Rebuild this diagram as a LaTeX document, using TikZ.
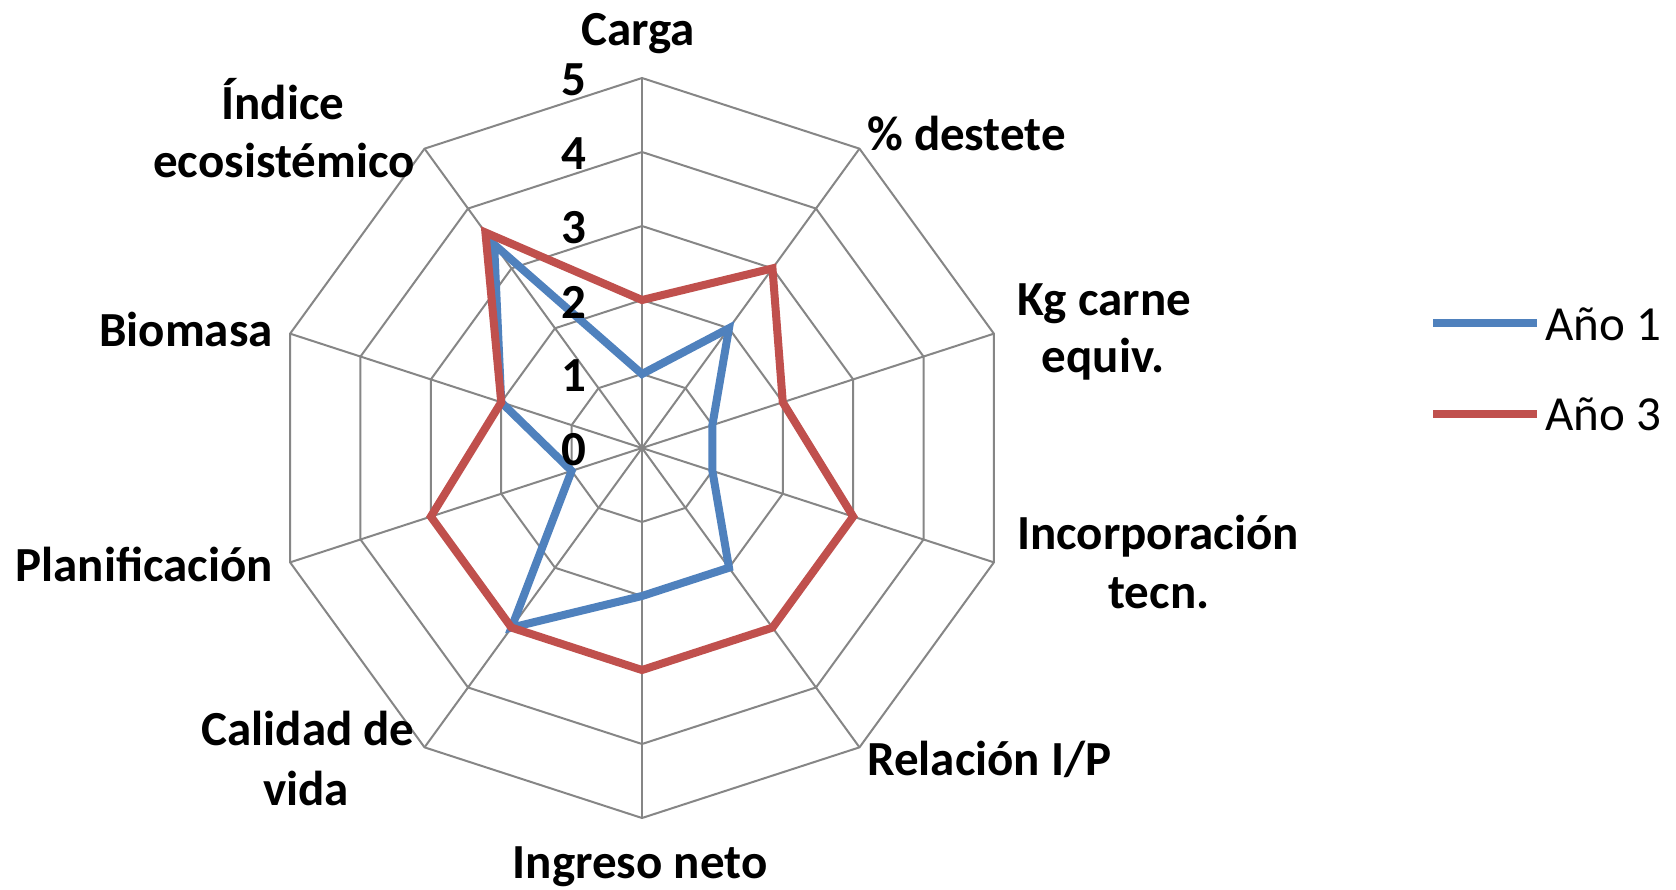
\documentclass[tikz,border=0pt]{standalone}
\usepackage{fontspec}
\setmainfont{Carlito}
\usetikzlibrary{calc}
\definecolor{gridc}{RGB}{134,134,134}
\definecolor{serA}{RGB}{79,129,189}
\definecolor{serB}{RGB}{192,80,77}
\begin{document}
\begin{tikzpicture}[x=1pt,y=-1pt,
  lbl/.style={font=\fontsize{49}{58}\selectfont\bfseries, inner sep=0pt, text=black},
  leglbl/.style={font=\fontsize{49}{58}\selectfont, inner sep=0pt, text=black},
  gridline/.style={draw=gridc, line width=2pt},
  serie/.style={line width=8pt, line join=miter, miter limit=6}]
\useasboundingbox (0,0) rectangle (1676,889);
\fill[white] (0,0) rectangle (1676,889);
\coordinate (C) at (642,448);
\foreach \k in {0,...,9} \coordinate (v\k) at ({642+370*sin(36*\k)},{448-370*cos(36*\k)});
% rings
\foreach \r in {1,...,5} {
  \draw[gridline] ({642}, {448-74*\r}) \foreach \k in {1,...,9} { -- ({642+74*\r*sin(36*\k)},{448-74*\r*cos(36*\k)}) } -- cycle;
}
% spokes
\foreach \k in {0,...,9} \draw[gridline] (C) -- (v\k);
% series Año 1
\draw[serie, draw=serA] ($(C)!0.2!(v0)$) -- ($(C)!0.4!(v1)$) -- ($(C)!0.2!(v2)$) -- ($(C)!0.2!(v3)$) -- ($(C)!0.4!(v4)$) -- ($(C)!0.4!(v5)$) -- ($(C)!0.6!(v6)$) -- ($(C)!0.2!(v7)$) -- ($(C)!0.4!(v8)$) -- ($(C)!0.68!(v9)$) -- cycle;
% series Año 3
\draw[serie, draw=serB] ($(C)!0.4!(v0)$) -- ($(C)!0.6!(v1)$) -- ($(C)!0.4!(v2)$) -- ($(C)!0.6!(v3)$) -- ($(C)!0.6!(v4)$) -- ($(C)!0.6!(v5)$) -- ($(C)!0.6!(v6)$) -- ($(C)!0.6!(v7)$) -- ($(C)!0.4!(v8)$) -- ($(C)!0.72!(v9)$) -- cycle;
% scale numbers
\foreach \n in {0,...,5} \node[lbl, anchor=east] (n\n) at (587,{450-74*\n}) {\n};
% axis labels
\node[lbl, anchor=base] (l0) at (638,45) {Carga};
\node[lbl, anchor=base west] (l1) at (867,150) {\% destete};
\node[lbl, anchor=base] (l2a) at (1104,315) {Kg carne};
\node[lbl, anchor=base] (l2b) at (1103,372) {equiv.};
\node[lbl, anchor=base] (l3a) at (1158,549) {Incorporación};
\node[lbl, anchor=base] (l3b) at (1159,608) {tecn.};
\node[lbl, anchor=base west] (l4) at (867,775) {Relación I/P};
\node[lbl, anchor=base] (l5) at (640,878) {Ingreso neto};
\node[lbl, anchor=base] (l6a) at (308,745) {Calidad de};
\node[lbl, anchor=base] (l6b) at (306,805) {vida};
\node[lbl, anchor=base east] (l7) at (273,581) {Planificación};
\node[lbl, anchor=base east] (l8) at (273,346) {Biomasa};
\node[lbl, anchor=base] (l9a) at (283,119) {Índice};
\node[lbl, anchor=base] (l9b) at (284,177) {ecosistémico};
% legend
\coordinate (g1a) at (1433,323); \coordinate (g1b) at (1537,323);
\coordinate (g3a) at (1433,414); \coordinate (g3b) at (1537,414);
\draw[serie, draw=serA] (g1a) -- (g1b);
\draw[serie, draw=serB] (g3a) -- (g3b);
\node[leglbl, anchor=base west] (t1) at (1545,340) {Año 1};
\node[leglbl, anchor=base west] (t3) at (1545,430) {Año 3};
\end{tikzpicture}
\end{document}
